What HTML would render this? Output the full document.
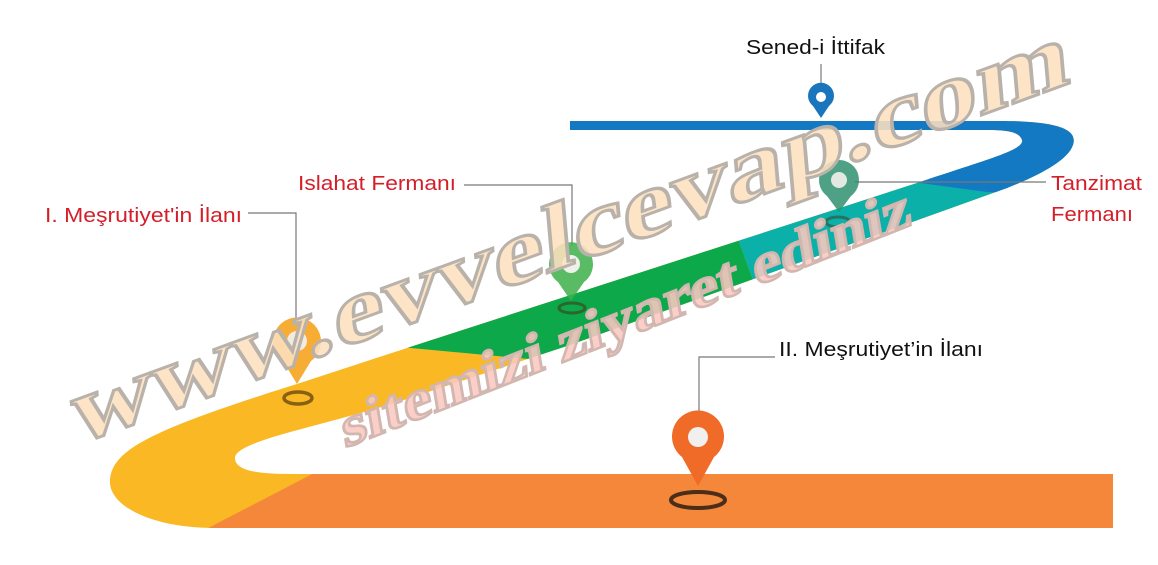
<!DOCTYPE html>
<html><head><meta charset="utf-8"><style>
html,body{margin:0;padding:0;background:#fff;width:1158px;height:565px;overflow:hidden}
svg{display:block}
</style></head><body>
<svg width="1158" height="565" viewBox="0 0 1158 565" xmlns="http://www.w3.org/2000/svg">
<defs>
<clipPath id="road"><path d="M570,121 L1000,121 C1060,121 1078,130 1073,145 C1068,160 1040,175 1007,188 L570,345 L410,398 C330,425 235,440 235,458 C235,470 255,474 290,474 L1113,474 L1113,528 L215,528 C150,528 108,505 110,480 C112,450 150,430 300,383 L410,347 L917,183 C985,160 1025,150 1022,140 C1019,131 1005,130 985,130 L570,130 Z"/></clipPath>
</defs>
<g clip-path="url(#road)">
<rect x="0" y="0" width="1158" height="565" fill="#fbb825"/>
<polygon points="185,540 320,470 1130,460 1130,540" fill="#f5873a"/>
<polygon points="400,347 540,360 760,300 735,230" fill="#0ca84a"/>
<polygon points="735,230 760,300 1130,260 1130,150 920,150" fill="#0bb0a8"/>
<polygon points="560,100 1130,100 1130,196 987,192 913,182 560,160" fill="#1279c2"/>
</g>
<!-- connectors -->
<g stroke="#777" stroke-width="1.2" fill="none">
<path d="M821,64 V84"/>
<path d="M464,185 H572 V245"/>
<path d="M248,213 H296 V320"/>
<path d="M855,182 H1046"/>
<path d="M775,357 H699 V412"/>
</g>
<!-- pins -->
<g>
<path d="M821,118 L813,106 A13,13 0 1 1 829,106 Z" fill="#1b75bc"/><circle cx="821" cy="97" r="5" fill="#fff"/>
<ellipse cx="838" cy="222" rx="12" ry="5" fill="none" stroke="#3a4a30" stroke-width="3" opacity=".6"/>
<path d="M839,212 L827,196 A20,20 0 1 1 851,196 Z" fill="#2f9070" opacity=".85"/><circle cx="839" cy="180" r="8" fill="#f4f0ea" opacity=".9"/>
<ellipse cx="572" cy="308" rx="13" ry="5" fill="none" stroke="#3a4a20" stroke-width="3" opacity=".7"/>
<path d="M571,301 L558,282 A22,22 0 1 1 584,282 Z" fill="#3cb04a" opacity=".85"/><circle cx="571" cy="264" r="9" fill="#eef2ea"/>
<ellipse cx="298" cy="398" rx="14" ry="6" fill="none" stroke="#6a4a10" stroke-width="3.5" opacity=".8"/>
<path d="M297,384 L283,361 A24,24 0 1 1 311,361 Z" fill="#f6a41e" opacity=".9"/><circle cx="297" cy="341" r="10" fill="#f2ebe0"/>
<ellipse cx="698" cy="500" rx="27" ry="8" fill="none" stroke="#4a2e1a" stroke-width="4"/>
<path d="M698,486 L682,457 A26,26 0 1 1 714,457 Z" fill="#f06a28"/><circle cx="698" cy="437" r="10" fill="#f2f0ee"/>
</g>
<!-- labels -->
<g font-family="'Liberation Sans',Arial,sans-serif" font-size="20">
<text x="746" y="54" fill="#111" textLength="139" lengthAdjust="spacingAndGlyphs">Sened-i İttifak</text>
<text x="298" y="190" fill="#d41f2a" textLength="158" lengthAdjust="spacingAndGlyphs">Islahat Fermanı</text>
<text x="45" y="222" fill="#d41f2a" textLength="197" lengthAdjust="spacingAndGlyphs">I. Meşrutiyet'in İlanı</text>
<text x="1051" y="190" fill="#d41f2a" textLength="91" lengthAdjust="spacingAndGlyphs">Tanzimat</text>
<text x="1051" y="221" fill="#d41f2a" textLength="82" lengthAdjust="spacingAndGlyphs">Fermanı</text>
<text x="779" y="356" fill="#111" textLength="204" lengthAdjust="spacingAndGlyphs">II. Meşrutiyet’in İlanı</text>
</g>
<!-- watermark -->
<g font-family="'Liberation Serif',serif" font-weight="bold">
<text x="0" y="0" transform="translate(75,445) rotate(-20) skewX(-15)" font-size="92" fill="#fde0bf" fill-opacity=".88" stroke="#b9b2aa" stroke-width="3" textLength="1060" lengthAdjust="spacingAndGlyphs">www.evvelcevap.com</text>
<text x="0" y="0" transform="translate(345,448) rotate(-21.5) skewX(-12)" font-size="56" fill="#fbc8bf" fill-opacity=".88" stroke="#d2b6b0" stroke-width="2.5" textLength="610" lengthAdjust="spacingAndGlyphs">sitemizi ziyaret ediniz</text>
</g>
</svg>
</body></html>
